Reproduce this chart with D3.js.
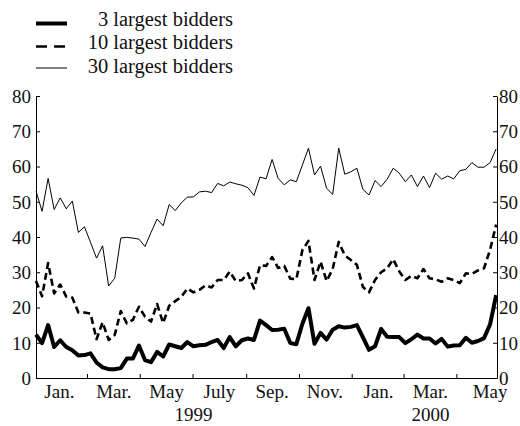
<!DOCTYPE html>
<html>
<head>
<meta charset="utf-8">
<script src="https://cdn.jsdelivr.net/npm/d3@7"></script>
<style>
  html, body { margin: 0; padding: 0; background: #fff; }
  svg { display: block; }
  text { font-family: "Liberation Serif", "Times New Roman", serif; fill: #111; }
</style>
</head>
<body>
<svg id="chart" width="520" height="426"></svg>
<script>
// ---- data (weekly observations, first week = 1999-01-01) ----
const startDate = "1999-01-01";
const endDate = "2000-06-17";

const top3 = [12.3, 9.9, 15.0, 8.8, 10.7, 8.8, 7.9, 6.4, 6.5, 7.0,
  4.4, 3.0, 2.5, 2.5, 2.8, 5.5, 5.5, 9.2, 5.1, 4.5,
  7.4, 6.1, 9.5, 9.0, 8.5, 10.2, 9.0, 9.3, 9.4, 10.2,
  10.8, 8.5, 11.6, 9.0, 10.7, 11.2, 10.8, 16.3, 15.0, 13.6,
  13.7, 14.0, 9.9, 9.6, 15.4, 19.8, 9.7, 12.8, 10.9, 13.7,
  14.7, 14.3, 14.5, 15.0, 11.5, 8.0, 9.0, 13.9, 11.7, 11.6,
  11.6, 9.9, 11.0, 12.3, 11.2, 11.2, 9.8, 11.1, 8.9, 9.2,
  9.3, 11.4, 10.0, 10.5, 11.3, 15.2, 23.5];

const top10 = [27.5, 23.2, 32.6, 24.0, 26.5, 23.1, 22.8, 18.6, 18.6, 18.3,
  11.0, 15.8, 10.8, 12.2, 19.0, 15.5, 16.5, 20.2, 17.4, 16.0,
  21.0, 15.6, 20.5, 21.8, 23.0, 25.4, 24.3, 25.0, 26.3, 25.7,
  27.8, 27.8, 30.2, 27.5, 27.8, 29.7, 25.4, 32.0, 31.8, 34.3,
  31.2, 31.8, 28.2, 28.0, 36.3, 38.9, 27.8, 33.0, 27.5, 30.9,
  38.6, 34.8, 33.5, 32.1, 25.8, 24.3, 27.8, 30.0, 31.1, 33.7,
  30.2, 27.8, 29.0, 28.3, 30.9, 28.3, 28.0, 27.3, 28.3, 27.8,
  26.9, 29.7, 29.5, 30.5, 31.1, 36.4, 43.5];

const top30 = [53.0, 47.3, 56.6, 47.8, 51.1, 48.0, 50.2, 41.3, 42.9, 38.5,
  34.0, 37.5, 26.1, 28.3, 39.7, 39.9, 39.7, 39.4, 37.3, 41.3,
  45.1, 43.2, 49.2, 47.5, 49.7, 51.3, 51.4, 52.8, 53.0, 52.6,
  55.2, 54.5, 55.6, 55.1, 54.7, 54.0, 51.8, 57.0, 56.5, 62.0,
  56.6, 54.8, 56.2, 55.7, 60.4, 65.2, 57.6, 60.1, 53.8, 52.1,
  65.2, 57.8, 58.5, 59.5, 53.5, 51.9, 56.0, 54.3, 56.4, 59.5,
  58.1, 55.7, 57.6, 54.3, 57.3, 54.0, 58.1, 56.4, 57.3, 56.5,
  58.8, 59.2, 61.1, 59.8, 59.8, 61.1, 65.0];

const seriesNames = ["3 largest bidders", "10 largest bidders", "30 largest bidders"];

const yTicks = [0, 10, 20, 30, 40, 50, 60, 70, 80];
const xTickDates = ["1999-03-01", "1999-05-01", "1999-07-01", "1999-09-01",
  "1999-11-01", "2000-01-01", "2000-03-01", "2000-05-01"];
const monthLabels = ["Jan.", "Mar.", "May", "July", "Sep.", "Nov.", "Jan.", "Mar.", "May"];
const monthLabelDates = ["1999-01-28", "1999-04-01", "1999-06-01", "1999-08-01",
  "1999-10-01", "1999-12-01", "2000-02-01", "2000-04-01", "2000-06-09"];
const yearLabels = ["1999", "2000"];
const yearLabelDates = ["1999-07-02", "2000-04-01"];

// ---- layout ----
const parse = d3.timeParse("%Y-%m-%d");
const svg = d3.select("#chart");
const plotL = 36, plotR = 497, plotT = 96, plotB = 378;

const x = d3.scaleTime().domain([parse(startDate), parse(endDate)]).range([plotL, plotR]);
const y = d3.scaleLinear().domain([0, 80]).range([plotB, plotT]);

const dates = top3.map((_, i) => d3.timeDay.offset(parse(startDate), 7 * i));

// axes
const axisFont = "19px";
const gL = svg.append("g").attr("transform", `translate(${plotL},0)`)
  .call(d3.axisLeft(y).tickValues(yTicks).tickSize(-4).tickSizeOuter(0).tickPadding(5));
const gR = svg.append("g").attr("transform", `translate(${plotR},0)`)
  .call(d3.axisRight(y).tickValues(yTicks).tickSize(-4).tickSizeOuter(0).tickPadding(2));
const gB = svg.append("g").attr("transform", `translate(0,${plotB})`)
  .call(d3.axisBottom(x).tickValues(xTickDates.map(parse)).tickSize(-4).tickSizeOuter(0).tickFormat(""));

[gL, gR, gB].forEach(g => {
  g.selectAll("path.domain").attr("stroke", "#000").attr("stroke-width", 1);
  g.selectAll(".tick line").attr("stroke", "#000");
  g.selectAll("text").style("font-size", axisFont)
    .style("font-family", '"Liberation Serif", "Times New Roman", serif').attr("fill", "#111");
});
gL.selectAll("text").attr("dy", "0.33em");
gR.selectAll("text").attr("dy", "0.33em");

svg.append("g").selectAll("text").data(monthLabels).join("text")
  .attr("x", (d, i) => x(parse(monthLabelDates[i])))
  .attr("y", 398)
  .attr("text-anchor", "middle")
  .style("font-size", axisFont)
  .text(d => d);

svg.append("g").selectAll("text").data(yearLabels).join("text")
  .attr("x", (d, i) => x(parse(yearLabelDates[i])))
  .attr("y", 421)
  .attr("text-anchor", "middle")
  .style("font-size", axisFont)
  .text(d => d);

// lines
const styles = [
  { w: 4, dash: null },
  { w: 2.6, dash: "7,4" },
  { w: 1, dash: null }
];
const allSeries = [top3, top10, top30];
const line = d3.line().x((d, i) => x(dates[i])).y(d => y(d));

allSeries.forEach((s, k) => {
  svg.append("path").datum(s)
    .attr("fill", "none")
    .attr("stroke", "#000")
    .attr("stroke-width", styles[k].w)
    .attr("stroke-linejoin", "round")
    .attr("stroke-dasharray", styles[k].dash)
    .attr("d", line);
});

// legend
const legendRows = [23.5, 46.5, 68];
const legendDash = [null, "11,7", null];
const leg = svg.append("g");
seriesNames.forEach((name, k) => {
  leg.append("line")
    .attr("x1", 36).attr("x2", 67)
    .attr("y1", legendRows[k]).attr("y2", legendRows[k])
    .attr("stroke", "#000")
    .attr("stroke-width", styles[k].w)
    .attr("stroke-dasharray", legendDash[k]);
  leg.append("text")
    .attr("x", 233).attr("y", legendRows[k] + 2.5 + (k === 2 ? 2 : 0))
    .attr("text-anchor", "end")
    .style("font-size", "20.5px")
    .text(name);
});
</script>
</body>
</html>
